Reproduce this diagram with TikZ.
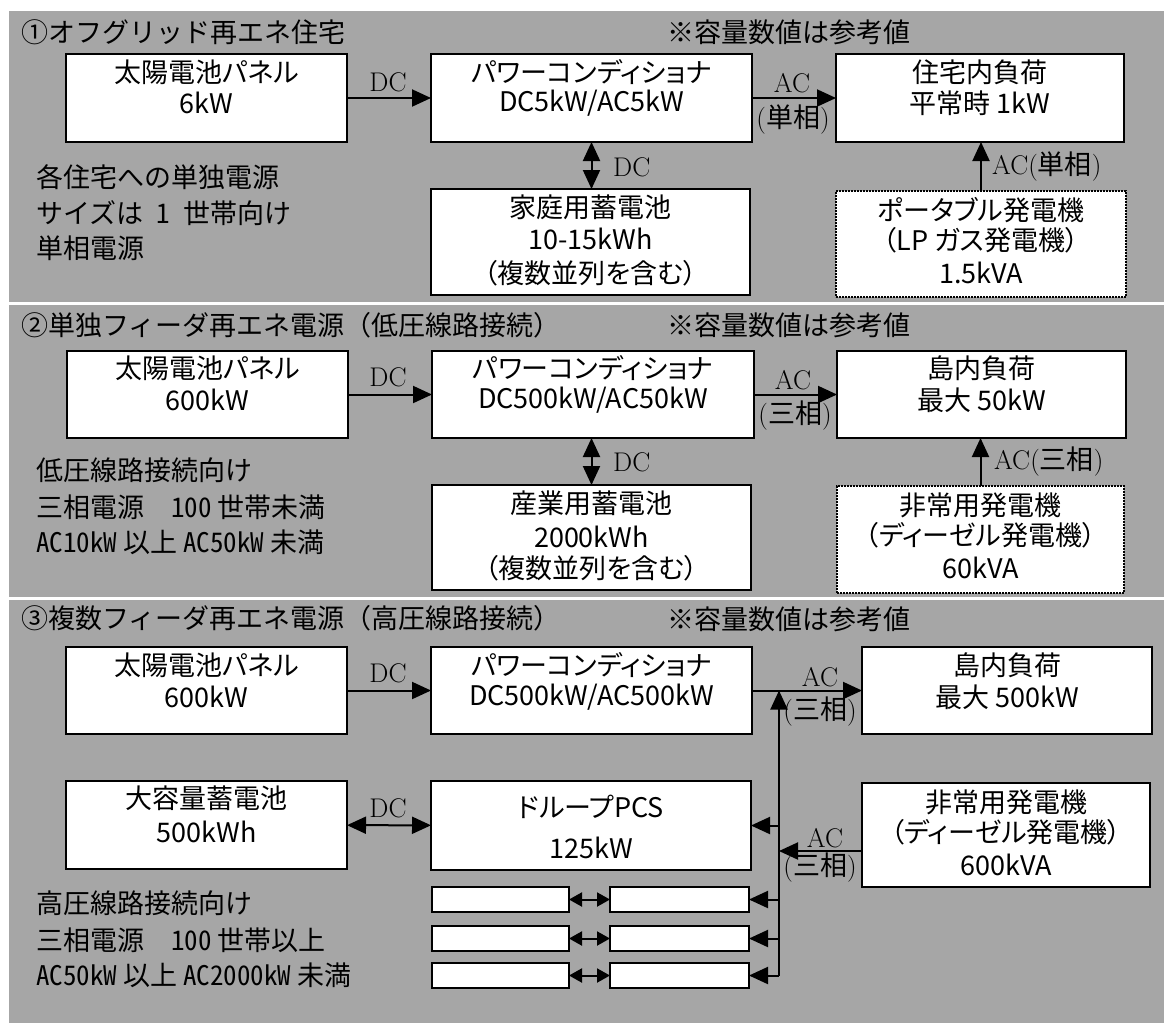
\documentclass[tikz,border=0pt]{standalone}
\usepackage{fontspec}
\newfontfamily\jp{Noto Sans CJK JP}
\newfontfamily\jpp[RawFeature=+palt]{Noto Sans CJK JP}
\newfontfamily\jph[RawFeature=+hwid]{Noto Sans CJK JP}
\usetikzlibrary{arrows.meta}
\definecolor{panelgray}{RGB}{166,166,166}
\newcommand\mytx[4]{\node[tx] (#1) at (#2,#3) {#4};}
\newcommand\mylt[4]{\node[lt] (#1) at (#2,#3) {#4};}
\newcommand\mylb[4]{\node[lbl] (#1) at (#2,#3) {#4};}
\begin{document}
\begin{tikzpicture}[x=1pt,y=-1pt,
  box/.style={draw=black,fill=white,line width=2pt,inner sep=0pt,outer sep=0pt},
  dbox/.style={draw=black,fill=white,line width=1.6pt,dash pattern=on 1.6pt off 1.4pt,inner sep=0pt,outer sep=0pt},
  tx/.style={font=\jpp\fontsize{27}{32}\selectfont,inner sep=0pt},
  lt/.style={font=\jp\fontsize{27}{32}\selectfont,inner sep=0pt,anchor=west},
  lbl/.style={font=\fontsize{27}{30}\selectfont,inner sep=0pt},
  arr/.style={line width=2pt,-{Triangle[length=19pt,width=17pt]}},
  darr/.style={line width=2pt,{Triangle[length=19pt,width=17pt]}-{Triangle[length=19pt,width=17pt]}},
  sarr/.style={line width=2pt,{Triangle[length=13pt,width=14pt]}-{Triangle[length=13pt,width=14pt]}},
]
\useasboundingbox (0,0) rectangle (1164,1023);
\fill[white] (0,0) rectangle (1164,1023);
% panels
\fill[panelgray] (9,11) rectangle (1164,302);
\fill[panelgray] (9,305) rectangle (1164,597);
\fill[panelgray] (9,600) rectangle (1164,1023);

% ---------- panel 1 ----------
\node[box,minimum width=281pt,minimum height=88pt] (a1) at (206.5,98) {};
\node[box,minimum width=321pt,minimum height=88pt] (b1) at (591.5,98) {};
\node[box,minimum width=288pt,minimum height=88pt] (c1) at (980,98) {};
\node[box,minimum width=319pt,minimum height=106pt] (d1) at (590.5,242) {};
\node[dbox,minimum width=290pt,minimum height=106pt] (e1) at (981,244) {};

\draw[arr] (a1) -- (b1);
\draw[arr] (b1) -- (c1);
\draw[darr] (b1.south) -- (b1.south |- d1.north);
\draw[arr] (e1.north) -- (e1.north |- c1.south);

\mylt{t1}{21}{32}{①オフグリッド再エネ住宅}
\mylt{n1}{667}{32}{※容量数値は参考値}
\mytx{a1l1}{206.5}{72}{太陽電池パネル}
\mytx{a1l2}{206.5}{103}{6kW}
\mytx{b1l1}{591.5}{72}{パワーコンディショナ}
\mytx{b1l2}{591.5}{103}{DC5kW/AC5kW}
\mytx{c1l1}{980}{72}{住宅内負荷}
\mytx{c1l2}{980}{103}{平常時 1kW}
\mytx{d1l1}{590.5}{207}{家庭用蓄電池}
\mytx{d1l2}{590.5}{239}{10-15kWh}
\mytx{d1l3}{590.5}{273}{（複数並列を含む）}
\mytx{e1l1}{981}{210}{ポータブル発電機}
\mytx{e1l2}{981}{240}{（LP ガス発電機）}
\mytx{e1l3}{981}{273}{1.5kVA}
\mylt{s1l1}{36}{177}{各住宅への単独電源}
\mylt{s1l2}{36}{213}{サイズは{\jph\ 1 }世帯向け}
\mylt{s1l3}{36}{248}{単相電源}
\mylb{dc1}{388}{82}{DC}
\mylb{ac1}{792}{83}{AC}
\mylb{ph1}{793}{120}{({\jp 単相})}
\node[lbl,anchor=west] (dc1v) at (613,167) {DC};
\node[lbl,anchor=west] (ac1v) at (992,167) {AC({\jp 単相})};

% ---------- panel 2 ----------
\node[box,minimum width=281pt,minimum height=87pt] (a2) at (207.5,394.5) {};
\node[box,minimum width=322pt,minimum height=87pt] (b2) at (593,394.5) {};
\node[box,minimum width=289pt,minimum height=87pt] (c2) at (981.5,394.5) {};
\node[box,minimum width=319pt,minimum height=105pt] (d2) at (591.5,537.5) {};
\node[dbox,minimum width=287pt,minimum height=107pt] (e2) at (980.5,539.5) {};

\draw[arr] (a2) -- (b2);
\draw[arr] (b2) -- (c2);
\draw[darr] (b2.south -| d2.north) -- (d2.north);
\draw[arr] (e2.north) -- (e2.north |- c2.south);

\mylt{t2}{21}{325}{②単独フィーダ再エネ電源（低圧線路接続）}
\mylt{n2}{667}{325}{※容量数値は参考値}
\mytx{a2l1}{207.5}{368}{太陽電池パネル}
\mytx{a2l2}{207.5}{400}{600kW}
\mytx{b2l1}{593}{368}{パワーコンディショナ}
\mytx{b2l2}{593}{400}{DC500kW/AC50kW}
\mytx{c2l1}{981.5}{368}{島内負荷}
\mytx{c2l2}{981.5}{400}{最大 50kW}
\mytx{d2l1}{591.5}{503}{産業用蓄電池}
\mytx{d2l2}{591.5}{537}{2000kWh}
\mytx{d2l3}{591.5}{568}{（複数並列を含む）}
\mytx{e2l1}{980.5}{505}{非常用発電機}
\mytx{e2l2}{980.5}{535}{（ディーゼル発電機）}
\mytx{e2l3}{980.5}{568}{60kVA}
\mylt{s2l1}{36}{470}{低圧線路接続向け}
\mylt{s2l2}{36}{507}{三相電源　{\jph 100} 世帯未満}
\mylt{s2l3}{36}{542}{{\jph AC10kW} 以上 {\jph AC50kW} 未満}
\mylb{dc2}{388}{377}{DC}
\mylb{ac2}{793}{380}{AC}
\mylb{ph2}{795}{416}{({\jp 三相})}
\node[lbl,anchor=west] (dc2v) at (613,462) {DC};
\node[lbl,anchor=west] (ac2v) at (994,462) {AC({\jp 三相})};

% ---------- panel 3 ----------
\node[box,minimum width=281pt,minimum height=87pt] (a3) at (206.5,690.5) {};
\node[box,minimum width=321pt,minimum height=87pt] (b3) at (591.5,690.5) {};
\node[box,minimum width=290pt,minimum height=87pt] (c3) at (1007,690.5) {};
\node[box,minimum width=281pt,minimum height=88pt] (f3) at (206.5,825) {};
\node[box,minimum width=320pt,minimum height=89pt] (g3) at (591,825.5) {};
\node[box,minimum width=288pt,minimum height=104pt] (h3) at (1006,835) {};
\node[box,minimum width=137pt,minimum height=25pt] (k1l) at (500.5,899.5) {};
\node[box,minimum width=139pt,minimum height=25pt] (k1r) at (679.5,899.5) {};
\node[box,minimum width=137pt,minimum height=25pt] (k2l) at (500.5,938.5) {};
\node[box,minimum width=139pt,minimum height=25pt] (k2r) at (679.5,938.5) {};
\node[box,minimum width=137pt,minimum height=25pt] (k3l) at (500.5,975.5) {};
\node[box,minimum width=139pt,minimum height=25pt] (k3r) at (679.5,975.5) {};

\coordinate (bt) at (779,690.5);
\coordinate (bb) at (779,975.5);
\coordinate (bh) at (779,851);
\coordinate (bg) at (779,825.5);

\draw[arr] (a3) -- (b3);
\draw[arr] (b3) -- (c3);
\draw[darr] (f3) -- (g3);
\draw[arr] (bb) -- (bt);
\draw[arr] (h3.west |- bh) -- (bh);
\draw[arr] (bg) -- (g3.east |- bg);
\draw[arr] (bb |- k1r.east) -- (k1r.east);
\draw[arr] (bb |- k2r.east) -- (k2r.east);
\draw[arr] (bb) -- (k3r.east);
\draw[sarr] (k1l) -- (k1r);
\draw[sarr] (k2l) -- (k2r);
\draw[sarr] (k3l) -- (k3r);

\mylt{t3}{21}{618}{③複数フィーダ再エネ電源（高圧線路接続）}
\mylt{n3}{667}{619}{※容量数値は参考値}
\mytx{a3l1}{206.5}{665}{太陽電池パネル}
\mytx{a3l2}{206.5}{697}{600kW}
\mytx{b3l1}{591.5}{665}{パワーコンディショナ}
\mytx{b3l2}{591.5}{697}{DC500kW/AC500kW}
\mytx{c3l1}{1007}{665}{島内負荷}
\mytx{c3l2}{1007}{697}{最大 500kW}
\mytx{f3l1}{206.5}{798}{大容量蓄電池}
\mytx{f3l2}{206.5}{832}{500kWh}
\mytx{g3l1}{591}{807}{ドループPCS}
\mytx{g3l2}{591}{848}{125kW}
\mytx{h3l1}{1006}{802}{非常用発電機}
\mytx{h3l2}{1006}{832}{（ディーゼル発電機）}
\mytx{h3l3}{1006}{865}{600kVA}
\mylt{s3l1}{36}{903}{高圧線路接続向け}
\mylt{s3l2}{36}{940}{三相電源　{\jph 100} 世帯以上}
\mylt{s3l3}{36}{975}{{\jph AC50kW} 以上 {\jph AC2000kW} 未満}
\mylb{dc3}{388}{673}{DC}
\mylb{ac3}{820}{677}{AC}
\mylb{ph3}{820}{712}{({\jp 三相})}
\mylb{dc4}{388}{808}{DC}
\mylb{ac4}{825}{838}{AC}
\mylb{ph4}{820}{868}{({\jp 三相})}
\end{tikzpicture}
\end{document}
